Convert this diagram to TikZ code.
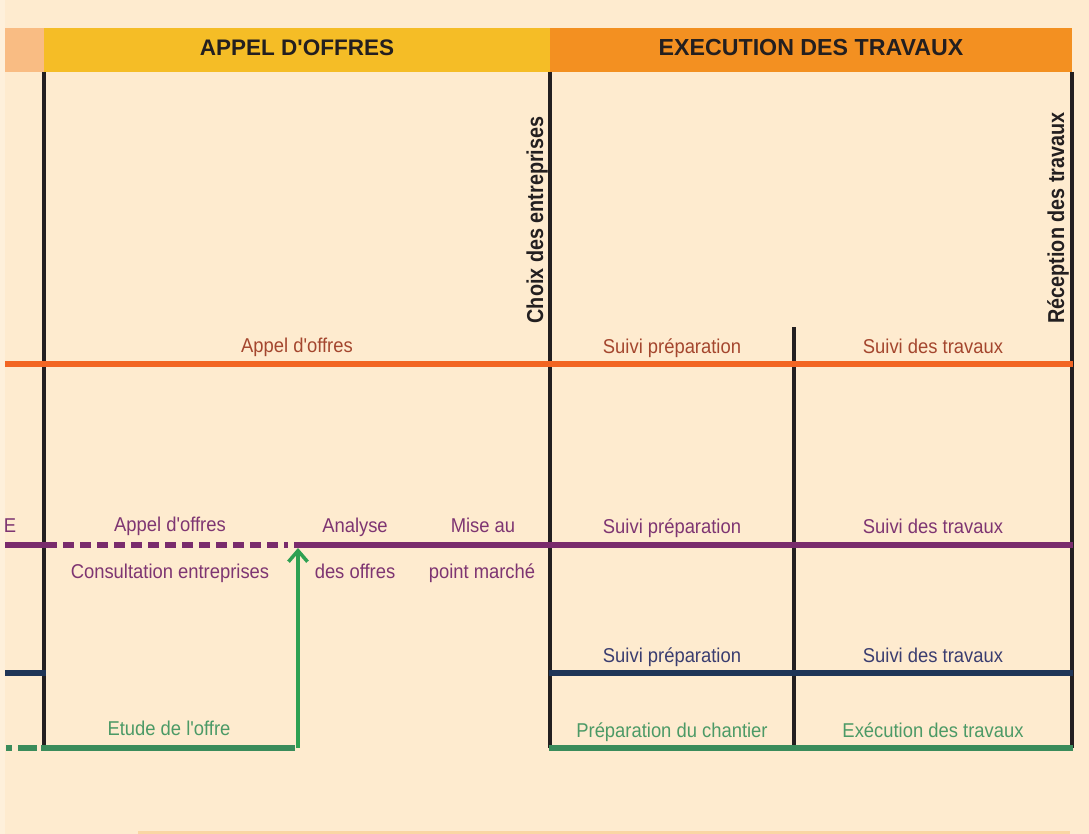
\documentclass[tikz,border=0pt]{standalone}
\usepackage{fontspec}
\setmainfont{Liberation Sans}
\newfontfamily\hfont{Liberation Sans}
\newfontfamily\rowfont{Liberation Sans}[FakeStretch=0.92]
\newfontfamily\vfont{Liberation Sans}[FakeStretch=0.86]
\usetikzlibrary{arrows.meta}
\definecolor{bg}{HTML}{FEEBCF}
\definecolor{bgedge}{HTML}{FEF0DB}
\definecolor{peach}{HTML}{F9BC83}
\definecolor{peachline}{HTML}{FAD6A4}
\definecolor{hyellow}{HTML}{F5BD26}
\definecolor{horange}{HTML}{F39021}
\definecolor{blk}{HTML}{231F20}
\definecolor{lorange}{HTML}{F26522}
\definecolor{torange}{HTML}{A4462E}
\definecolor{lpurple}{HTML}{7A2B6C}
\definecolor{tpurple}{HTML}{7E3572}
\definecolor{lnavy}{HTML}{1F3557}
\definecolor{tnavy}{HTML}{3A3D70}
\definecolor{lgreen}{HTML}{3A8C5B}
\definecolor{tgreen}{HTML}{4C9A66}
\definecolor{agreen}{HTML}{2EA052}
\tikzset{
  vline/.style={draw=blk, line width=3.5pt},
  hline/.style={line width=5.5pt},
  headtxt/.style={inner sep=0pt, anchor=base, text=blk, font=\hfont\fontsize{22.5}{26}\selectfont\bfseries},
  vtxt/.style={inner sep=0pt, anchor=base, rotate=90, text=blk, font=\vfont\fontsize{23}{26}\selectfont\bfseries},
  rowtxt/.style={inner sep=0pt, anchor=base, font=\rowfont\fontsize{20}{24}\selectfont},
}
\begin{document}
\begin{tikzpicture}[x=1pt,y=-1pt]
\useasboundingbox (0,0) rectangle (1089,834);
% background
\fill[bg] (0,0) rectangle (1089,834);
\fill[bgedge] (0,0) rectangle (5,834);
\fill[peachline] (138,831) rectangle (1070,834);
% header bands
\fill[peach] (5,28) rectangle (44,72);
\fill[hyellow] (44,28) rectangle (550,72);
\fill[horange] (550,28) rectangle (1072,72);
\node[headtxt] (hAO) at (297,56) {APPEL D'OFFRES};
\node[headtxt, font=\hfont\fontsize{23.2}{26}\selectfont\bfseries] (hEX) at (811,56) {EXECUTION DES TRAVAUX};
% vertical black lines
\coordinate (v1t) at (44,72);   \coordinate (v1b) at (44,748);
\coordinate (v2t) at (550,72);  \coordinate (v2b) at (550,748);
\coordinate (v3t) at (794,327); \coordinate (v3b) at (794,748);
\coordinate (v4t) at (1072,72); \coordinate (v4b) at (1072,748);
\draw[vline] (v1t) -- (v1b);
\draw[vline] (v2t) -- (v2b);
\draw[vline] (v3t) -- (v3b);
\draw[vline] (v4t) -- (v4b);
\node[vtxt] (choix) at (543,220) {Choix des entreprises};
\node[vtxt] (recep) at (1064,218) {Réception des travaux};
% orange row
\coordinate (o1) at (5,364); \coordinate (o2) at (1073,364);
\draw[hline, lorange] (o1) -- (o2);
\node[rowtxt, text=torange] (oAO) at (297,352) {Appel d'offres};
\node[rowtxt, text=torange] (oSP) at (672,353) {Suivi préparation};
\node[rowtxt, text=torange] (oST) at (933,353) {Suivi des travaux};
% purple row
\coordinate (p1) at (5,545); \coordinate (p2) at (46,545);
\coordinate (p3) at (294,545); \coordinate (p4) at (1073,545);
\draw[hline, lpurple] (p1) -- (p2);
\draw[hline, lpurple, dash pattern=on 11pt off 6pt] (p2) -- ([xshift=-6pt]p3);
\draw[hline, lpurple] (p3) -- (p4);
\node[rowtxt, text=tpurple] (pE) at (10,532) {E};
\node[rowtxt, text=tpurple] (pAO) at (170,531) {Appel d'offres};
\node[rowtxt, text=tpurple] (pCE) at (170,578) {Consultation entreprises};
\node[rowtxt, text=tpurple] (pAn) at (355,532) {Analyse};
\node[rowtxt, text=tpurple] (pDo) at (355,578) {des offres};
\node[rowtxt, text=tpurple] (pMa) at (483,532) {Mise au};
\node[rowtxt, text=tpurple] (pPm) at (482,578) {point marché};
\node[rowtxt, text=tpurple] (pSP) at (672,533) {Suivi préparation};
\node[rowtxt, text=tpurple] (pST) at (933,533) {Suivi des travaux};
% navy row
\coordinate (n1) at (5,673); \coordinate (n2) at (46,673);
\coordinate (n3) at (549,673); \coordinate (n4) at (1073,673);
\draw[hline, lnavy] (n1) -- (n2);
\draw[hline, lnavy] (n3) -- (n4);
\node[rowtxt, text=tnavy] (nSP) at (672,662) {Suivi préparation};
\node[rowtxt, text=tnavy] (nST) at (933,662) {Suivi des travaux};
% green row
\coordinate (g1) at (6,748); \coordinate (g2) at (37,748);
\coordinate (g3) at (41,748); \coordinate (g4) at (295,748);
\coordinate (g5) at (549,748); \coordinate (g6) at (1073,748);
\draw[hline, lgreen, dash pattern=on 6pt off 6pt on 19pt off 5pt] (g1) -- (g2);
\draw[hline, lgreen] (g3) -- (g4);
\draw[hline, lgreen] (g5) -- (g6);
\node[rowtxt, text=tgreen] (gEO) at (169,735) {Etude de l'offre};
\node[rowtxt, text=tgreen] (gPC) at (672,737) {Préparation du chantier};
\node[rowtxt, text=tgreen] (gET) at (933,737) {Exécution des travaux};
% green arrow
\coordinate (aS) at (298,748); \coordinate (aT) at (298,548);
\draw[agreen, line width=3.5pt, -{Straight Barb[length=11pt,width=19pt]}] (aS) -- (aT);
\end{tikzpicture}
\end{document}
